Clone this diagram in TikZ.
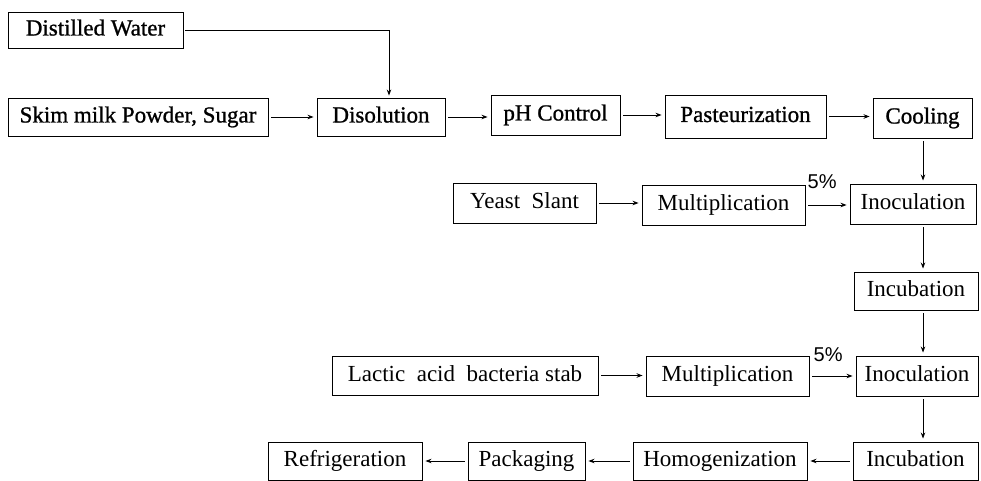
\documentclass[tikz,border=0pt]{standalone}
\usepackage{fontspec}
\setmainfont{Liberation Serif}
\newfontfamily\heavyfont[FakeBold=1.0]{Liberation Serif}
\newfontfamily\pctfont{Liberation Sans}
\usetikzlibrary{arrows.meta}
\tikzset{
  box/.style={draw, line width=0.9pt, inner sep=0pt, text height=16pt, text depth=5pt, font=\fontsize{23}{26}\selectfont},
  boldbox/.style={box, font=\heavyfont\fontsize{23}{26}\selectfont},
  arr/.style={draw, line width=0.9pt, -{Stealth[length=6pt,width=4.5pt]}, shorten <=3pt, shorten >=3pt},
  pct/.style={inner sep=0pt, font=\pctfont\fontsize{20}{21}\selectfont}
}
\begin{document}
\begin{tikzpicture}[x=1pt,y=-1pt]
\useasboundingbox (0,0) rectangle (981,481);
% row 1-2
\node[boldbox, minimum width=175pt, minimum height=36pt] (dw) at (95.5,30) {Distilled Water};
\node[boldbox, minimum width=260pt, minimum height=38pt] (skim) at (138,117) {Skim milk Powder, Sugar};
\node[boldbox, minimum width=128pt, minimum height=38pt] (dis) at (381,117) {Disolution};
\node[boldbox, minimum width=129pt, minimum height=40pt] (ph) at (555.5,115) {pH Control};
\node[boldbox, minimum width=161pt, minimum height=43pt] (past) at (745.5,116.5) {Pasteurization};
\node[boldbox, minimum width=99pt, minimum height=40pt] (cool) at (922.5,118) {Cooling};
% row 3
\node[box, minimum width=143pt, minimum height=40pt] (yeast) at (524.5,203) {Yeast\ \ Slant};
\node[box, minimum width=163pt, minimum height=40pt] (mult1) at (723.5,205) {Multiplication};
\node[box, minimum width=126pt, minimum height=40pt] (inoc1) at (913,204) {Inoculation};
% row 4
\node[box, minimum width=124pt, minimum height=38pt] (incub1) at (916,291) {Incubation};
% row 5
\node[box, minimum width=266pt, minimum height=39pt] (lactic) at (465,375.5) {Lactic\ \ acid\ \ bacteria stab};
\node[box, minimum width=163pt, minimum height=40pt] (mult2) at (727.5,376) {Multiplication};
\node[box, minimum width=122pt, minimum height=40pt] (inoc2) at (917,376) {Inoculation};
% row 6
\node[box, minimum width=154pt, minimum height=38pt] (refrig) at (345,461) {Refrigeration};
\node[box, minimum width=117pt, minimum height=38pt] (pack) at (526.5,461) {Packaging};
\node[box, minimum width=174pt, minimum height=38pt] (homog) at (720,461) {Homogenization};
\node[box, minimum width=125pt, minimum height=38pt] (incub2) at (915.5,461) {Incubation};
% helper coordinates
\coordinate (dwx) at (389,0);
\coordinate (colx) at (923,0);
% connectors
\draw[arr, shorten <=2pt, shorten >=2pt] (dw.east) -- (dw.east -| dwx) -- (dis.north -| dwx);
\draw[arr] (skim.east) -- (skim.east -| dis.west);
\draw[arr] (dis.east) -- (dis.east -| ph.west);
\draw[arr] (ph.east) -- (ph.east -| past.west);
\draw[arr] (past.east) -- (past.east -| cool.west);
\draw[arr] (cool.south -| colx) -- (inoc1.north -| colx);
\draw[arr] (yeast.east) -- (yeast.east -| mult1.west);
\draw[arr] (mult1.east) -- (mult1.east -| inoc1.west);
\node[pct, anchor=south west] (p1) at ([xshift=2pt,yshift=-4pt]mult1.north east) {5\%};
\draw[arr] (inoc1.south -| colx) -- (incub1.north -| colx);
\draw[arr] (incub1.south -| colx) -- (inoc2.north -| colx);
\draw[arr] (lactic.east) -- (lactic.east -| mult2.west);
\draw[arr] (mult2.east) -- (mult2.east -| inoc2.west);
\node[pct, anchor=south west] (p2) at ([xshift=4pt,yshift=-6pt]mult2.north east) {5\%};
\draw[arr] (inoc2.south -| colx) -- (incub2.north -| colx);
\draw[arr] (incub2.west) -- (incub2.west -| homog.east);
\draw[arr] (homog.west) -- (homog.west -| pack.east);
\draw[arr] (pack.west) -- (pack.west -| refrig.east);
\end{tikzpicture}
\end{document}
